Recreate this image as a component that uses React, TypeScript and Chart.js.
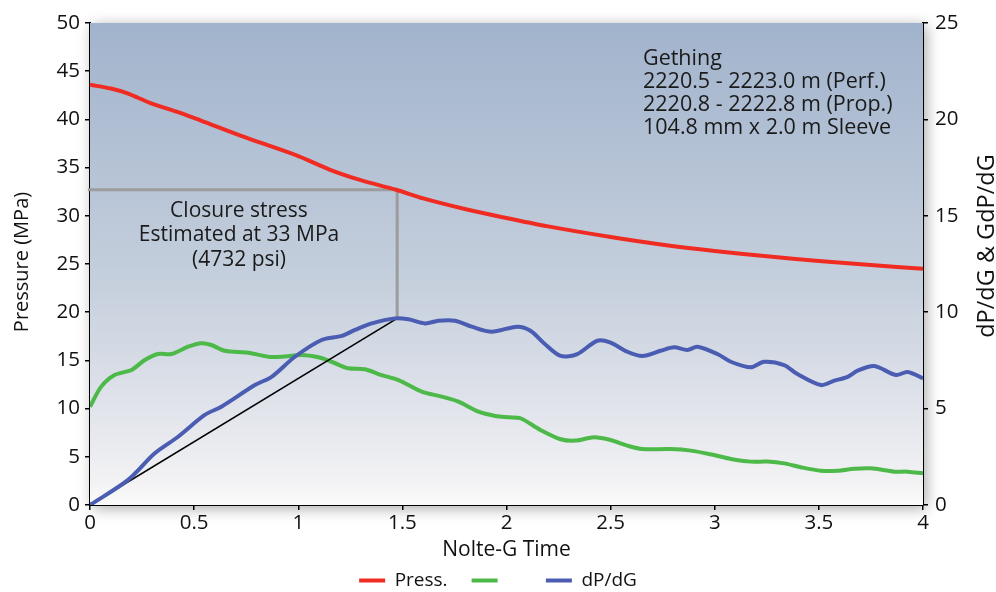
import React, { useEffect, useRef } from "react";
import { Chart, registerables } from "chart.js";

Chart.register(...registerables);

const FONT = "'Open Sans', 'Noto Sans', sans-serif";

// Pressure (MPa, left axis)
const pressX = [0, 0.1, 0.18, 0.29, 0.43, 0.53, 0.75, 1.0, 1.15, 1.3, 1.47, 1.6, 1.8, 1.97, 2.2, 2.5, 2.75, 3.0, 3.25, 3.5, 3.75, 4.0];
const pressY = [43.6, 43.2, 42.7, 41.7, 40.7, 39.9, 38.1, 36.2, 34.8, 33.7, 32.7, 31.8, 30.7, 29.9, 28.9, 27.8, 27.0, 26.35, 25.8, 25.3, 24.9, 24.5];

// GdP/dG (right axis)
const gdpX = [0, 0.054, 0.118, 0.199, 0.263, 0.327, 0.391, 0.471, 0.535, 0.583, 0.647, 0.76, 0.856, 0.92, 1.016, 1.096, 1.16, 1.24, 1.32, 1.4, 1.481, 1.593, 1.689, 1.769, 1.865, 1.946, 2.01, 2.067, 2.163, 2.26, 2.332, 2.42, 2.5, 2.58, 2.652, 2.788, 2.885, 2.997, 3.077, 3.173, 3.253, 3.333, 3.413, 3.51, 3.59, 3.67, 3.75, 3.862, 3.926, 4.0];
const gdpY = [5.1, 6.14, 6.74, 7.0, 7.52, 7.83, 7.83, 8.21, 8.39, 8.3, 8.0, 7.9, 7.69, 7.69, 7.78, 7.66, 7.43, 7.09, 7.04, 6.74, 6.48, 5.88, 5.62, 5.36, 4.84, 4.62, 4.55, 4.5, 3.89, 3.41, 3.34, 3.51, 3.37, 3.08, 2.9, 2.9, 2.82, 2.59, 2.39, 2.25, 2.25, 2.16, 1.96, 1.78, 1.78, 1.88, 1.9, 1.73, 1.73, 1.64];

// dP/dG (right axis)
const dpX = [0, 0.183, 0.311, 0.423, 0.551, 0.631, 0.792, 0.872, 0.984, 1.112, 1.209, 1.272, 1.353, 1.465, 1.529, 1.609, 1.673, 1.753, 1.833, 1.929, 2.051, 2.115, 2.18, 2.26, 2.34, 2.436, 2.5, 2.58, 2.652, 2.74, 2.804, 2.869, 2.917, 3.013, 3.077, 3.173, 3.237, 3.333, 3.397, 3.51, 3.574, 3.638, 3.686, 3.766, 3.87, 3.926, 4.0];
const dpY = [0, 1.3, 2.68, 3.54, 4.67, 5.1, 6.22, 6.65, 7.69, 8.56, 8.77, 9.08, 9.42, 9.68, 9.63, 9.42, 9.56, 9.56, 9.25, 8.99, 9.25, 9.04, 8.39, 7.73, 7.83, 8.52, 8.42, 7.95, 7.73, 8.0, 8.18, 8.04, 8.21, 7.83, 7.43, 7.14, 7.43, 7.26, 6.79, 6.22, 6.45, 6.65, 6.97, 7.21, 6.74, 6.9, 6.57];

// Closure analysis lines
const tangentX = [0, 1.475];
const tangentY = [0, 9.68]; // right axis
const closureX = [-0.01, 1.475, 1.475];
const closureY = [32.7, 32.7, 19.4]; // left axis

const xTicks = { min: 0, max: 4, step: 0.5 };
const leftTicks = { min: 0, max: 50, step: 5 };
const rightTicks = { min: 0, max: 25, step: 5 };

const legendLabels = ["Press.", "   ", "dP/dG"];
const xTitle = "Nolte-G Time";
const leftTitle = "Pressure (MPa)";
const rightTitle = "dP/dG & GdP/dG";
const closureText = ["Closure stress", "Estimated at 33 MPa", "(4732 psi)"];
const wellText = ["Gething", "2220.5 - 2223.0 m (Perf.)", "2220.8 - 2222.8 m (Prop.)", "104.8 mm x 2.0 m Sleeve"];

const RED = "#ef2b22";
const GREEN = "#4cb948";
const BLUE = "#4a5db2";

const pts = (xs: number[], ys: number[]) => xs.map((x, i) => ({ x, y: ys[i] }));

const decorPlugin = {
  id: "decor",
  beforeDatasetsDraw(chart: any) {
    const { ctx, chartArea } = chart;
    const { left, top, right, bottom } = chartArea;
    ctx.save();
    ctx.shadowColor = "rgba(0,0,0,0.35)";
    ctx.shadowBlur = 14;
    ctx.shadowOffsetX = 3;
    ctx.shadowOffsetY = 3;
    const g = ctx.createLinearGradient(0, top, 0, bottom);
    g.addColorStop(0, "#a1b3cc");
    g.addColorStop(0.55, "#c6d0dd");
    g.addColorStop(0.78, "#dfe2ea");
    g.addColorStop(0.95, "#f2f2f4");
    g.addColorStop(1, "#fbfbfb");
    ctx.fillStyle = g;
    ctx.fillRect(left, top, right - left, bottom - top);
    ctx.restore();

    // annotations
    ctx.save();
    ctx.fillStyle = "#1a1a1a";
    ctx.textBaseline = "middle";
    ctx.textAlign = "center";
    ctx.font = `21px ${FONT}`;
    closureText.forEach((t, i) => ctx.fillText(t, 239, 211 + i * 24.5));
    ctx.textAlign = "left";
    ctx.font = `21.5px ${FONT}`;
    wellText.forEach((t, i) => ctx.fillText(t, 643, 59 + i * 23));
    ctx.restore();
  },
  afterDraw(chart: any) {
    const { ctx, chartArea } = chart;
    ctx.save();
    ctx.fillStyle = "#111";
    ctx.textAlign = "center";
    ctx.textBaseline = "middle";
    ctx.font = `21px ${FONT}`;
    ctx.fillText(xTitle, (chartArea.left + chartArea.right) / 2, 550);
    ctx.save();
    ctx.font = `20px ${FONT}`;
    ctx.translate(22, 262);
    ctx.rotate(-Math.PI / 2);
    ctx.fillText(leftTitle, 0, 0);
    ctx.restore();
    ctx.save();
    ctx.font = `23.5px ${FONT}`;
    ctx.translate(987, 246);
    ctx.rotate(-Math.PI / 2);
    ctx.fillText(rightTitle, 0, 0);
    ctx.restore();
    ctx.restore();
  },
};

export default function App() {
  const ref = useRef<HTMLCanvasElement | null>(null);

  useEffect(() => {
    if (!ref.current) return;
    const tickFont = { family: FONT, size: 20.5 };
    const axisGrid = {
      drawOnChartArea: false,
      drawTicks: true,
      tickLength: 5,
      color: "#000",
      lineWidth: 1.5,
    };
    const border = { display: true, color: "#000", width: 2 };
    const fmt = (v: any) => String(Number(v));

    const chart = new Chart(ref.current, {
      type: "line",
      data: {
        datasets: [
          {
            label: legendLabels[0],
            data: pts(pressX, pressY),
            borderColor: RED,
            backgroundColor: RED,
            borderWidth: 4,
            pointRadius: 0,
            tension: 0.3,
            yAxisID: "y",
            order: 3,
          },
          {
            label: legendLabels[1],
            data: pts(gdpX, gdpY),
            borderColor: GREEN,
            backgroundColor: GREEN,
            borderWidth: 4,
            pointRadius: 0,
            tension: 0.3,
            yAxisID: "y2",
            order: 4,
          },
          {
            label: legendLabels[2],
            data: pts(dpX, dpY),
            borderColor: BLUE,
            backgroundColor: BLUE,
            borderWidth: 4,
            pointRadius: 0,
            tension: 0.3,
            yAxisID: "y2",
            order: 1,
          },
          {
            label: "tangent",
            data: pts(tangentX, tangentY),
            borderColor: "#000",
            borderWidth: 1.6,
            pointRadius: 0,
            tension: 0,
            yAxisID: "y2",
            order: 2,
          },
          {
            label: "closure",
            data: pts(closureX, closureY),
            borderColor: "#9c9c9c",
            borderWidth: 3,
            pointRadius: 0,
            tension: 0,
            yAxisID: "y",
            order: 5,
            clip: false as any,
          },
        ],
      },
      options: {
        responsive: true,
        maintainAspectRatio: false,
        animation: false,
        layout: { padding: { top: 23, left: 0, right: 0, bottom: 0 } },
        plugins: {
          tooltip: { enabled: false },
          legend: {
            position: "bottom",
            maxHeight: 45,
            labels: {
              boxWidth: 26,
              boxHeight: 4,
              padding: 24,
              color: "#111",
              font: { family: FONT, size: 19 },
              sort: (a: any, b: any) => a.datasetIndex - b.datasetIndex,
              generateLabels: (ch: any) =>
                Chart.defaults.plugins.legend.labels
                  .generateLabels(ch)
                  .filter((it: any) => it.datasetIndex < 3)
                  .map((it: any) => ({ ...it, lineWidth: 0 })),
            },
          },
        },
        scales: {
          x: {
            type: "linear",
            min: xTicks.min,
            max: xTicks.max,
            grid: axisGrid,
            border,
            ticks: { stepSize: xTicks.step, font: tickFont, color: "#111", padding: 1, callback: fmt },
            afterFit: (s: any) => {
              s.height = 42;
            },
          },
          y: {
            type: "linear",
            position: "left",
            min: leftTicks.min,
            max: leftTicks.max,
            grid: axisGrid,
            border,
            ticks: { stepSize: leftTicks.step, font: tickFont, color: "#111", padding: 5, callback: fmt },
            afterFit: (s: any) => {
              s.width = 90;
            },
          },
          y2: {
            type: "linear",
            position: "right",
            min: rightTicks.min,
            max: rightTicks.max,
            grid: axisGrid,
            border,
            ticks: { stepSize: rightTicks.step, font: tickFont, color: "#111", padding: 7, callback: fmt },
            afterFit: (s: any) => {
              s.width = 73;
            },
          },
        },
      } as any,
      plugins: [decorPlugin],
    });
    return () => chart.destroy();
  }, []);

  return (
    <div style={{ position: "fixed", left: 0, top: 0, width: 996, height: 592, background: "#fff" }}>
      <canvas ref={ref} />
    </div>
  );
}
